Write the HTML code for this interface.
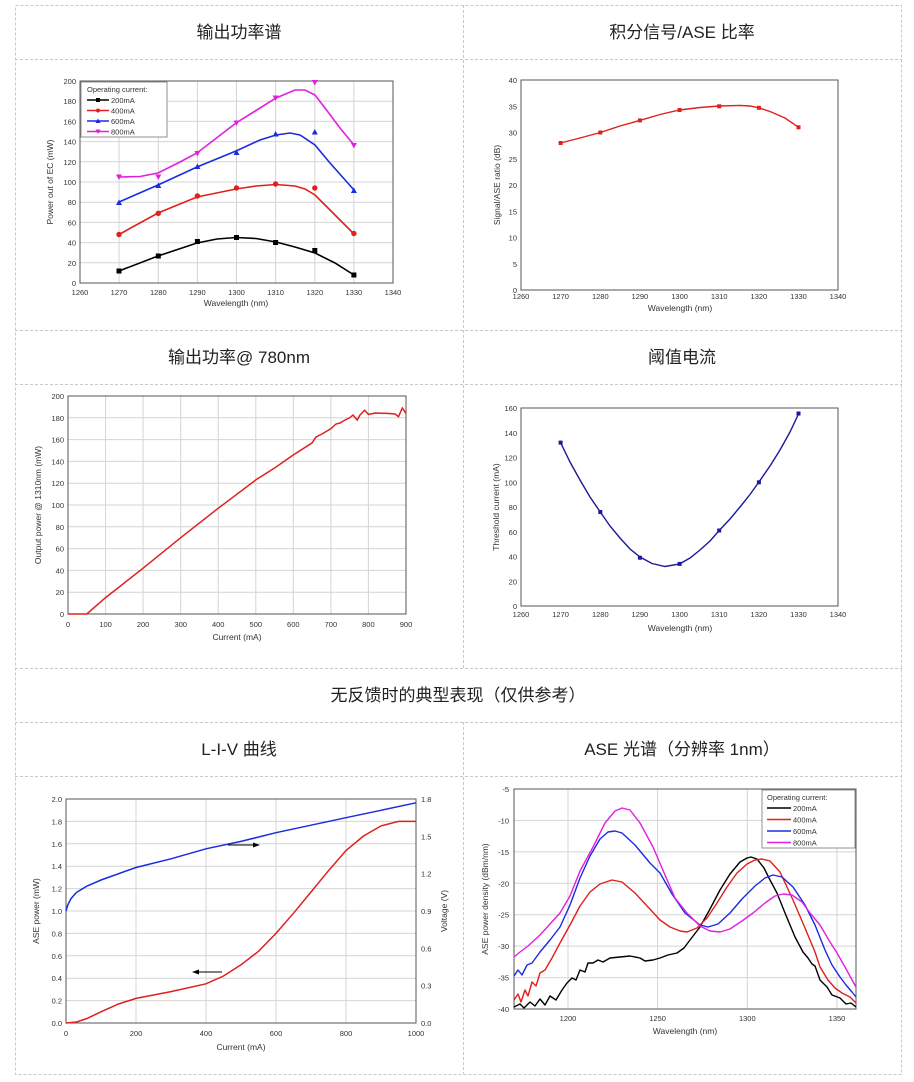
<!DOCTYPE html>
<html><head><meta charset="utf-8"><style>
html,body{margin:0;padding:0;background:#fff;}
svg{display:block;}
text{font-family:"Liberation Sans","Noto Sans CJK SC",sans-serif;}
.t{font-size:17px;fill:#222;text-anchor:middle;}
.tk{font-size:7.5px;fill:#333;}
.ax{font-size:8.5px;fill:#333;}
.g{stroke:#d4d4d4;stroke-width:1;fill:none;}
.b{stroke:#555;stroke-width:1;fill:none;}
.d{stroke:#c8c8c8;stroke-width:1;stroke-dasharray:3,2;fill:none;}
</style></head><body>
<svg width="914" height="1082" viewBox="0 0 914 1082" xmlns="http://www.w3.org/2000/svg">
<g class="d">
<rect x="15.5" y="5.5" width="886" height="1069"/>
<line x1="15" y1="59.5" x2="902" y2="59.5"/>
<line x1="15" y1="330.5" x2="902" y2="330.5"/>
<line x1="15" y1="384.5" x2="902" y2="384.5"/>
<line x1="15" y1="668.5" x2="902" y2="668.5"/>
<line x1="15" y1="722.5" x2="902" y2="722.5"/>
<line x1="15" y1="776.5" x2="902" y2="776.5"/>
<line x1="463.5" y1="5" x2="463.5" y2="668"/>
<line x1="463.5" y1="722" x2="463.5" y2="1074"/>
</g>
<text class="t" x="239" y="38">输出功率谱</text>
<text class="t" x="682" y="38">积分信号/ASE 比率</text>
<text class="t" x="239" y="363">输出功率@ 780nm</text>
<text class="t" x="682" y="363">阈值电流</text>
<text class="t" x="458" y="701">无反馈时的典型表现（仅供参考）</text>
<text class="t" x="239" y="755">L-I-V 曲线</text>
<text class="t" x="682" y="755">ASE 光谱（分辨率 1nm）</text>

<!-- Chart 1 -->
<g class="g">
<line x1="119" y1="81" x2="119" y2="283"/><line x1="158.3" y1="81" x2="158.3" y2="283"/><line x1="197.4" y1="81" x2="197.4" y2="283"/><line x1="236.5" y1="81" x2="236.5" y2="283"/><line x1="275.6" y1="81" x2="275.6" y2="283"/><line x1="314.8" y1="81" x2="314.8" y2="283"/><line x1="353.9" y1="81" x2="353.9" y2="283"/>
<line x1="80" y1="262.8" x2="393" y2="262.8"/><line x1="80" y1="242.6" x2="393" y2="242.6"/><line x1="80" y1="222.4" x2="393" y2="222.4"/><line x1="80" y1="202.2" x2="393" y2="202.2"/><line x1="80" y1="182" x2="393" y2="182"/><line x1="80" y1="161.8" x2="393" y2="161.8"/><line x1="80" y1="141.6" x2="393" y2="141.6"/><line x1="80" y1="121.4" x2="393" y2="121.4"/><line x1="80" y1="101.2" x2="393" y2="101.2"/>
</g>
<rect class="b" x="80" y="81" width="313" height="202"/>
<g class="tk" text-anchor="end">
<text x="76" y="286">0</text><text x="76" y="265.8">20</text><text x="76" y="245.6">40</text><text x="76" y="225.4">60</text><text x="76" y="205.2">80</text><text x="76" y="185">100</text><text x="76" y="164.8">120</text><text x="76" y="144.6">140</text><text x="76" y="124.4">160</text><text x="76" y="104.2">180</text><text x="76" y="84">200</text>
</g>
<g class="tk" text-anchor="middle">
<text x="80" y="295">1260</text><text x="119" y="295">1270</text><text x="158.3" y="295">1280</text><text x="197.4" y="295">1290</text><text x="236.5" y="295">1300</text><text x="275.6" y="295">1310</text><text x="314.8" y="295">1320</text><text x="353.9" y="295">1330</text><text x="393" y="295">1340</text>
</g>
<text class="ax" x="236" y="306" text-anchor="middle">Wavelength (nm)</text>
<text class="ax" transform="translate(53,182) rotate(-90)" text-anchor="middle">Power out of EC (mW)</text>
<g fill="none" stroke-width="1.6">
<polyline stroke="#000" points="119,271 158,256 197,243 217,239 236,237.5 256,238.5 276,242 295,247 315,253 335,263 354,275"/>
<polyline stroke="#e0201c" points="119,234.5 158,213 197,197 236,189 256,186 276,184.5 295,186 305,189 315,195 325,205 340,220 354,234"/>
<polyline stroke="#1a2be0" points="119,202 158,185 197,167 236,151 260,140 276,135 290,133 300,135 315,145 330,163 354,190"/>
<polyline stroke="#e020e0" points="119,177 140,176.5 158,173 180,162 197,153 236,123 276,98 295,90 305,90 315,95 325,108 340,128 354,145"/>
</g>
<g fill="#000"><rect x="116.5" y="268.5" width="5" height="5"/><rect x="155.8" y="253.5" width="5" height="5"/><rect x="194.9" y="239" width="5" height="5"/><rect x="234" y="235" width="5" height="5"/><rect x="273.1" y="240" width="5" height="5"/><rect x="312.3" y="248" width="5" height="5"/><rect x="351.4" y="272.5" width="5" height="5"/></g>
<g fill="#e0201c"><circle cx="119" cy="234.5" r="2.7"/><circle cx="158.3" cy="213.3" r="2.7"/><circle cx="197.4" cy="196" r="2.7"/><circle cx="236.5" cy="188" r="2.7"/><circle cx="275.6" cy="184" r="2.7"/><circle cx="314.8" cy="188" r="2.7"/><circle cx="353.9" cy="233.5" r="2.7"/></g>
<g fill="#1a2be0"><path d="M116,205h6l-3,-5.5z"/><path d="M155.3,188h6l-3,-5.5z"/><path d="M194.4,169h6l-3,-5.5z"/><path d="M233.5,155h6l-3,-5.5z"/><path d="M272.6,136.5h6l-3,-5.5z"/><path d="M311.8,134.5h6l-3,-5.5z"/><path d="M350.9,193h6l-3,-5.5z"/></g>
<g fill="#e020e0"><path d="M116,174.5h6l-3,5.5z"/><path d="M155.3,174.5h6l-3,5.5z"/><path d="M194.4,151h6l-3,5.5z"/><path d="M233.5,120.5h6l-3,5.5z"/><path d="M272.6,95.5h6l-3,5.5z"/><path d="M311.8,80h6l-3,5.5z"/><path d="M350.9,143h6l-3,5.5z"/></g>
<rect x="81" y="82" width="86" height="55" fill="#fff" stroke="#777" stroke-width="0.8"/>
<g class="tk"><text x="87" y="92">Operating current:</text><text x="111" y="103">200mA</text><text x="111" y="113.5">400mA</text><text x="111" y="124">600mA</text><text x="111" y="134.5">800mA</text></g>
<g stroke-width="1.4"><line x1="87" y1="100" x2="109" y2="100" stroke="#000"/><line x1="87" y1="110.5" x2="109" y2="110.5" stroke="#e0201c"/><line x1="87" y1="121" x2="109" y2="121" stroke="#1a2be0"/><line x1="87" y1="131.5" x2="109" y2="131.5" stroke="#e020e0"/></g>
<rect x="96" y="98" width="4" height="4"/><circle cx="98" cy="110.5" r="2" fill="#e0201c"/><path d="M95.5,123h5l-2.5,-4.5z" fill="#1a2be0"/><path d="M95.5,129.5h5l-2.5,4.5z" fill="#e020e0"/>

<!-- Chart 2 -->
<rect class="b" x="521" y="80" width="317" height="210"/>
<g class="tk" text-anchor="end">
<text x="517" y="293">0</text><text x="517" y="266.8">5</text><text x="517" y="240.5">10</text><text x="517" y="214.3">15</text><text x="517" y="188">20</text><text x="517" y="161.8">25</text><text x="517" y="135.5">30</text><text x="517" y="109.3">35</text><text x="517" y="83">40</text>
</g>
<g class="tk" text-anchor="middle">
<text x="521" y="299">1260</text><text x="560.6" y="299">1270</text><text x="600.3" y="299">1280</text><text x="639.9" y="299">1290</text><text x="679.6" y="299">1300</text><text x="719.2" y="299">1310</text><text x="758.9" y="299">1320</text><text x="798.5" y="299">1330</text><text x="838" y="299">1340</text>
</g>
<text class="ax" x="680" y="311" text-anchor="middle">Wavelength (nm)</text>
<text class="ax" transform="translate(500,185) rotate(-90)" text-anchor="middle">Signal/ASE ratio (dB)</text>
<polyline fill="none" stroke="#e0201c" stroke-width="1.4" points="560.6,143 580,138 600.3,132.5 620,126 639.9,120.4 660,114.5 679.6,110 700,107.5 719.2,106 740,105.4 750,106 758.9,107.8 770,111.5 785,118 798.5,127.3"/>
<g fill="#e0201c"><rect x="558.6" y="141" width="4" height="4"/><rect x="598.3" y="130.5" width="4" height="4"/><rect x="637.9" y="118.4" width="4" height="4"/><rect x="677.6" y="108" width="4" height="4"/><rect x="717.2" y="104.3" width="4" height="4"/><rect x="756.9" y="105.8" width="4" height="4"/><rect x="796.5" y="125.3" width="4" height="4"/></g>

<!-- Chart 3 -->
<g class="g">
<line x1="105.6" y1="396" x2="105.6" y2="614"/><line x1="143.1" y1="396" x2="143.1" y2="614"/><line x1="180.7" y1="396" x2="180.7" y2="614"/><line x1="218.2" y1="396" x2="218.2" y2="614"/><line x1="255.8" y1="396" x2="255.8" y2="614"/><line x1="293.3" y1="396" x2="293.3" y2="614"/><line x1="330.9" y1="396" x2="330.9" y2="614"/><line x1="368.4" y1="396" x2="368.4" y2="614"/>
<line x1="68" y1="592.2" x2="406" y2="592.2"/><line x1="68" y1="570.4" x2="406" y2="570.4"/><line x1="68" y1="548.6" x2="406" y2="548.6"/><line x1="68" y1="526.8" x2="406" y2="526.8"/><line x1="68" y1="505" x2="406" y2="505"/><line x1="68" y1="483.2" x2="406" y2="483.2"/><line x1="68" y1="461.4" x2="406" y2="461.4"/><line x1="68" y1="439.6" x2="406" y2="439.6"/><line x1="68" y1="417.8" x2="406" y2="417.8"/>
</g>
<rect class="b" x="68" y="396" width="338" height="218"/>
<g class="tk" text-anchor="end">
<text x="64" y="617">0</text><text x="64" y="595.2">20</text><text x="64" y="573.4">40</text><text x="64" y="551.6">60</text><text x="64" y="529.8">80</text><text x="64" y="508">100</text><text x="64" y="486.2">120</text><text x="64" y="464.4">140</text><text x="64" y="442.6">160</text><text x="64" y="420.8">180</text><text x="64" y="399">200</text>
</g>
<g class="tk" text-anchor="middle">
<text x="68" y="627">0</text><text x="105.6" y="627">100</text><text x="143.1" y="627">200</text><text x="180.7" y="627">300</text><text x="218.2" y="627">400</text><text x="255.8" y="627">500</text><text x="293.3" y="627">600</text><text x="330.9" y="627">700</text><text x="368.4" y="627">800</text><text x="406" y="627">900</text>
</g>
<text class="ax" x="237" y="640" text-anchor="middle">Current (mA)</text>
<text class="ax" transform="translate(41,505) rotate(-90)" text-anchor="middle">Output power @ 1310nm (mW)</text>
<polyline fill="none" stroke="#e0201c" stroke-width="1.5" points="68,614 86.8,614 105.6,597.6 143.1,568.2 180.7,537.7 218.2,508.3 255.8,479.9 274.6,468 293.4,454.9 312.1,442.9 316,437 322,434 330.9,428.7 336,424 340,423 345,420 349.7,417.8 353,415 357.2,420 360,415 364.7,410.2 368.5,414.5 375,413 387.3,413.4 395,414 398.5,416.7 402.3,408 406,413.4"/>

<!-- Chart 4 -->
<rect class="b" x="521" y="408" width="317" height="198"/>
<g class="tk" text-anchor="end">
<text x="517" y="609">0</text><text x="517" y="584.3">20</text><text x="517" y="559.5">40</text><text x="517" y="534.8">60</text><text x="517" y="510">80</text><text x="517" y="485.3">100</text><text x="517" y="460.5">120</text><text x="517" y="435.8">140</text><text x="517" y="411">160</text>
</g>
<g class="tk" text-anchor="middle">
<text x="521" y="617">1260</text><text x="560.6" y="617">1270</text><text x="600.3" y="617">1280</text><text x="639.9" y="617">1290</text><text x="679.6" y="617">1300</text><text x="719.2" y="617">1310</text><text x="758.9" y="617">1320</text><text x="798.5" y="617">1330</text><text x="838" y="617">1340</text>
</g>
<text class="ax" x="680" y="631" text-anchor="middle">Wavelength (nm)</text>
<text class="ax" transform="translate(499,507) rotate(-90)" text-anchor="middle">Threshold current (mA)</text>
<polyline fill="none" stroke="#1a1a9a" stroke-width="1.4" points="560.6,442.6 570,462 580,480 590,497 600.3,512 610,526 620,538 630,549 640,557 652,563.5 665,566.5 679.6,563.9 690,558 700,550 710,541 719.2,530.5 730,519 740,507 750,494.5 758.9,482 770,466 780,450 790,432 798.5,414"/>
<g fill="#1a1a9a"><rect x="558.6" y="440.6" width="4" height="4"/><rect x="598.3" y="510" width="4" height="4"/><rect x="637.9" y="555.7" width="4" height="4"/><rect x="677.6" y="561.9" width="4" height="4"/><rect x="717.2" y="528.5" width="4" height="4"/><rect x="756.9" y="480.3" width="4" height="4"/><rect x="796.5" y="411.5" width="4" height="4"/></g>

<!-- Chart 5 -->
<g class="g">
<line x1="136" y1="799" x2="136" y2="1023"/><line x1="206" y1="799" x2="206" y2="1023"/><line x1="276" y1="799" x2="276" y2="1023"/><line x1="346" y1="799" x2="346" y2="1023"/>
<line x1="66" y1="1000.6" x2="416" y2="1000.6"/><line x1="66" y1="978.2" x2="416" y2="978.2"/><line x1="66" y1="955.8" x2="416" y2="955.8"/><line x1="66" y1="933.4" x2="416" y2="933.4"/><line x1="66" y1="911" x2="416" y2="911"/><line x1="66" y1="888.6" x2="416" y2="888.6"/><line x1="66" y1="866.2" x2="416" y2="866.2"/><line x1="66" y1="843.8" x2="416" y2="843.8"/><line x1="66" y1="821.4" x2="416" y2="821.4"/>
</g>
<rect class="b" x="66" y="799" width="350" height="224"/>
<g class="tk" text-anchor="end">
<text x="62" y="1026">0.0</text><text x="62" y="1003.6">0.2</text><text x="62" y="981.2">0.4</text><text x="62" y="958.8">0.6</text><text x="62" y="936.4">0.8</text><text x="62" y="914">1.0</text><text x="62" y="891.6">1.2</text><text x="62" y="869.2">1.4</text><text x="62" y="846.8">1.6</text><text x="62" y="824.4">1.8</text><text x="62" y="802">2.0</text>
</g>
<g class="tk">
<text x="421" y="1026">0.0</text><text x="421" y="988.7">0.3</text><text x="421" y="951.3">0.6</text><text x="421" y="914">0.9</text><text x="421" y="876.7">1.2</text><text x="421" y="839.3">1.5</text><text x="421" y="802">1.8</text>
</g>
<g class="tk" text-anchor="middle">
<text x="66" y="1036">0</text><text x="136" y="1036">200</text><text x="206" y="1036">400</text><text x="276" y="1036">600</text><text x="346" y="1036">800</text><text x="416" y="1036">1000</text>
</g>
<text class="ax" x="241" y="1050" text-anchor="middle">Current (mA)</text>
<text class="ax" transform="translate(39,911) rotate(-90)" text-anchor="middle">ASE power (mW)</text>
<text class="ax" transform="translate(447,911) rotate(-90)" text-anchor="middle">Voltage (V)</text>
<polyline fill="none" stroke="#1a2be0" stroke-width="1.5" points="66,911 67.75,905 71,898.6 76.5,892.4 87,886 101,880 136,867.5 171,858.8 206,848.8 241,841.4 276,832.7 311,825.2 346,817.7 381,810.3 416,802.8"/>
<polyline fill="none" stroke="#e0201c" stroke-width="1.5" points="66,1023 76.5,1022 87,1018.5 101,1011.8 118.5,1004 136,998.4 171,991.6 206,983.8 223.5,976 241,964.8 258.5,951.3 276,933.4 293.5,913.2 311,892 328.5,870.7 346,850.5 363.5,836 381,825.9 398.5,821.4 416,821.4"/>
<g stroke="#000" stroke-width="1"><line x1="228" y1="845" x2="254" y2="845"/><line x1="194" y1="972" x2="222" y2="972"/></g>
<path d="M260,845l-7,-2.5v5z M192,972l7,-2.5v5z" fill="#000"/>

<!-- Chart 6 -->
<g class="g">
<line x1="568" y1="789" x2="568" y2="1009"/><line x1="657.6" y1="789" x2="657.6" y2="1009"/><line x1="747.3" y1="789" x2="747.3" y2="1009"/><line x1="837" y1="789" x2="837" y2="1009"/>
<line x1="514" y1="820.4" x2="856" y2="820.4"/><line x1="514" y1="851.9" x2="856" y2="851.9"/><line x1="514" y1="883.3" x2="856" y2="883.3"/><line x1="514" y1="914.7" x2="856" y2="914.7"/><line x1="514" y1="946.1" x2="856" y2="946.1"/><line x1="514" y1="977.6" x2="856" y2="977.6"/>
</g>
<rect class="b" x="514" y="789" width="342" height="220"/>
<g class="tk" text-anchor="end">
<text x="509" y="792">-5</text><text x="509" y="823.4">-10</text><text x="509" y="854.9">-15</text><text x="509" y="886.3">-20</text><text x="509" y="917.7">-25</text><text x="509" y="949.1">-30</text><text x="509" y="980.6">-35</text><text x="509" y="1012">-40</text>
</g>
<g class="tk" text-anchor="middle">
<text x="568" y="1021">1200</text><text x="657.6" y="1021">1250</text><text x="747.3" y="1021">1300</text><text x="837" y="1021">1350</text>
</g>
<text class="ax" x="685" y="1034" text-anchor="middle">Wavelength (nm)</text>
<text class="ax" transform="translate(488,899) rotate(-90)" text-anchor="middle">ASE power density (dBm/nm)</text>
<g fill="none" stroke-width="1.4" stroke-linejoin="round">
<polyline stroke="#000" points="514,1007 520,1004 524,1008 530,1002 535,1006 540,999 545,1005 550,996 556,1000 562,990 567,983 572,978 576,980 580,970 585,972 588,963 593,963 598,960 603,962 610,958 620,957 630,956 640,958 645,961 653,960 660,958 668,955 677,953 684,948 690,940 700,927 710,909 720,890 730,874 740,862 747,858 751,857 757,859 764,868 770,880 777,893 785,913 795,937 803,952 808,958 812,964 815,966 820,980 827,987 832,995 840,998 846,1004 851,1003 856,1007"/>
<polyline stroke="#e0201c" points="514,1000 518,994 521,1002 525,990 528,996 532,982 536,986 540,973 545,970 552,958 560,943 570,925 580,906 590,892 600,884 612,880 622,882 635,893 648,907 660,920 670,927 680,931 687,932 697,928 707,918 717,903 727,887 737,873 747,864 755,860 762,859 770,861 780,872 793,900 805,928 815,952 820,967 828,980 835,988 842,993 850,997 856,1003"/>
<polyline stroke="#1a2be0" points="514,976 518,970 522,975 527,965 532,963 540,952 550,940 560,927 570,905 580,878 590,856 600,839 608,832 615,831 622,833 635,845 650,863 660,873 672,894 685,913 700,925 708,927 718,924 730,913 742,899 755,886 765,878 773,875 782,877 793,887 805,905 815,925 825,950 832,965 840,977 846,985 852,992 856,997"/>
<polyline stroke="#e020e0" points="514,957 520,952 528,946 540,935 550,924 560,913 570,896 580,871 593,847 605,823 615,811 622,808 630,810 640,823 653,847 665,875 675,898 687,913 700,926 710,931 720,932 730,929 742,921 753,913 765,903 775,896 783,894 792,895 802,902 810,913 820,925 830,942 837,953 845,967 851,978 856,987"/>
</g>
<rect x="762" y="790" width="93" height="58" fill="#fff" stroke="#777" stroke-width="0.8"/>
<g class="tk" font-size="8"><text x="767" y="800">Operating current:</text><text x="793" y="811">200mA</text><text x="793" y="822.5">400mA</text><text x="793" y="834">600mA</text><text x="793" y="845.5">800mA</text></g>
<g stroke-width="1.5"><line x1="767" y1="808" x2="791" y2="808" stroke="#000"/><line x1="767" y1="819.5" x2="791" y2="819.5" stroke="#e0201c"/><line x1="767" y1="831" x2="791" y2="831" stroke="#1a2be0"/><line x1="767" y1="842.5" x2="791" y2="842.5" stroke="#e020e0"/></g>
</svg>
</body></html>
